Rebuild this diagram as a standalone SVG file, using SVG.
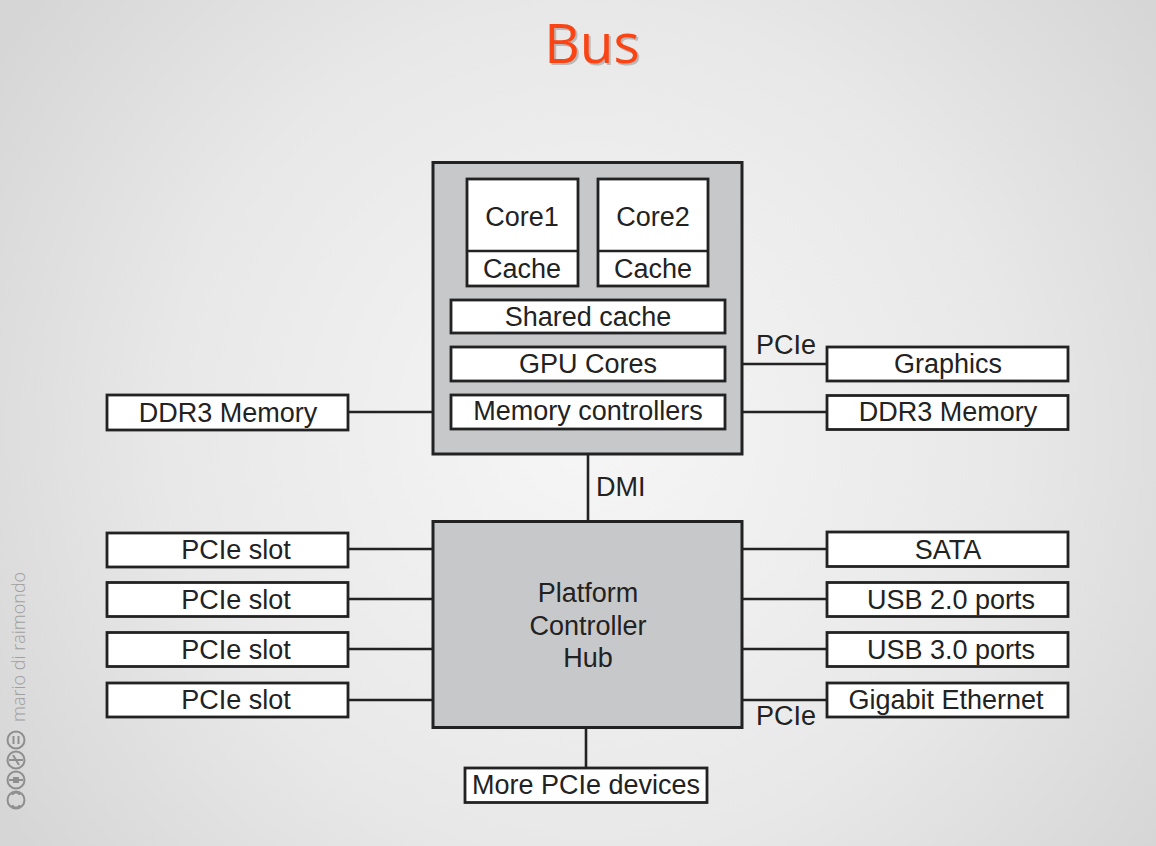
<svg xmlns="http://www.w3.org/2000/svg" width="1156" height="846" viewBox="0 0 1156 846">
<defs>
<radialGradient id="bg" cx="590" cy="430" r="700" gradientUnits="userSpaceOnUse">
<stop offset="0" stop-color="#f6f6f6"/>
<stop offset="0.6" stop-color="#e8e8e8"/>
<stop offset="1" stop-color="#d6d6d6"/>
</radialGradient>
<style>
.big{fill:#c7c8ca;stroke:#222;stroke-width:3}
.box{fill:#fff;stroke:#222;stroke-width:2.8}
.t{font-family:"Liberation Sans",Arial,sans-serif;font-size:27px;fill:#222;text-anchor:middle}
.lbl{font-family:"Liberation Sans",Arial,sans-serif;font-size:27px;fill:#222}
.c{stroke:#222;stroke-width:2.6;fill:none}
.wm{fill:none;stroke:#8f8f8f;stroke-width:2}
</style>
</defs>
<rect width="1156" height="846" fill="url(#bg)"/>

<g id="title">
<text x="594" y="65" font-family="'Open Sans','Noto Sans',sans-serif" font-size="55" fill="#9a9a9a" text-anchor="middle" opacity="0.6">Bus</text>
<text x="592" y="63" font-family="'Open Sans','Noto Sans',sans-serif" font-size="55" fill="#fa4414" text-anchor="middle">Bus</text>
</g>

<g id="watermark">
<text transform="translate(25,722) rotate(-90)" font-family="'Open Sans','Noto Sans',sans-serif" font-weight="300" font-size="18" fill="#a0a0a0">mario di raimondo</text>
<circle class="wm" cx="16" cy="740" r="8.5"/>
<line class="wm" x1="13.5" y1="736" x2="13.5" y2="744"/>
<line class="wm" x1="18.5" y1="736" x2="18.5" y2="744"/>
<circle class="wm" cx="16" cy="760" r="8.5"/>
<line class="wm" x1="9" y1="760" x2="23" y2="760"/>
<path class="wm" d="M13 755 L19 765"/>
<circle class="wm" cx="16" cy="780" r="8.5"/>
<line class="wm" x1="9" y1="780" x2="23" y2="780"/>
<rect x="13" y="777" width="6" height="6" fill="#8f8f8f"/>
<circle class="wm" cx="16" cy="800" r="8.5"/>
<path class="wm" d="M12.5 795 a3.5 2.5 0 0 1 7 0 M12.5 805 a3.5 2.5 0 0 0 7 0"/>
</g>

<g id="connectors">
<line class="c" x1="348" y1="412" x2="451" y2="412"/>
<line class="c" x1="725" y1="412" x2="827" y2="412"/>
<line class="c" x1="742" y1="364" x2="827" y2="364"/>
<line class="c" x1="588" y1="454" x2="588" y2="521"/>
<line class="c" x1="348" y1="549" x2="433" y2="549"/>
<line class="c" x1="348" y1="599" x2="433" y2="599"/>
<line class="c" x1="348" y1="649" x2="433" y2="649"/>
<line class="c" x1="348" y1="700" x2="433" y2="700"/>
<line class="c" x1="742" y1="549" x2="827" y2="549"/>
<line class="c" x1="742" y1="599" x2="827" y2="599"/>
<line class="c" x1="742" y1="649" x2="827" y2="649"/>
<line class="c" x1="742" y1="700" x2="827" y2="700"/>
<line class="c" x1="586" y1="728" x2="586" y2="768"/>
<text class="lbl" x="756" y="354">PCIe</text>
<text class="lbl" x="596" y="496">DMI</text>
<text class="lbl" x="756" y="725">PCIe</text>
</g>

<g id="cpu">
<rect class="big" x="433" y="162.5" width="309" height="291.5"/>
</g>
<g id="core1">
<rect class="box" x="467" y="179" width="111" height="107"/>
<line class="c" x1="467" y1="251" x2="578" y2="251" stroke-width="2.8"/>
<text class="t" x="522" y="226">Core1</text>
<text class="t" x="522" y="278">Cache</text>
</g>
<g id="core2">
<rect class="box" x="598" y="179" width="110" height="107"/>
<line class="c" x1="598" y1="251" x2="708" y2="251" stroke-width="2.8"/>
<text class="t" x="653" y="226">Core2</text>
<text class="t" x="653" y="278">Cache</text>
</g>
<g id="shared-cache">
<rect class="box" x="451" y="300" width="274" height="33"/>
<text class="t" x="588" y="326">Shared cache</text>
</g>
<g id="gpu-cores">
<rect class="box" x="451" y="347" width="274" height="34"/>
<text class="t" x="588" y="373">GPU Cores</text>
</g>
<g id="memory-controllers">
<rect class="box" x="451" y="395" width="274" height="34"/>
<text class="t" x="588" y="420">Memory controllers</text>
</g>

<g id="ddr3-left">
<rect class="box" x="107" y="395" width="241" height="35"/>
<text class="t" x="228" y="422">DDR3 Memory</text>
</g>
<g id="graphics">
<rect class="box" x="827" y="347" width="241" height="34"/>
<text class="t" x="948" y="373">Graphics</text>
</g>
<g id="ddr3-right">
<rect class="box" x="827" y="395.5" width="241" height="34"/>
<text class="t" x="948" y="421">DDR3 Memory</text>
</g>

<g id="pch">
<rect class="big" x="433" y="521.5" width="309" height="206"/>
<text class="t" x="588" y="602">Platform</text>
<text class="t" x="588" y="635">Controller</text>
<text class="t" x="588" y="667">Hub</text>
</g>

<g id="pcie-slot-1">
<rect class="box" x="107" y="533" width="241" height="34"/>
<text class="t" x="236" y="559">PCIe slot</text>
</g>
<g id="pcie-slot-2">
<rect class="box" x="107" y="582.5" width="241" height="34"/>
<text class="t" x="236" y="609">PCIe slot</text>
</g>
<g id="pcie-slot-3">
<rect class="box" x="107" y="632.5" width="241" height="34"/>
<text class="t" x="236" y="659">PCIe slot</text>
</g>
<g id="pcie-slot-4">
<rect class="box" x="107" y="683" width="241" height="34"/>
<text class="t" x="236" y="709">PCIe slot</text>
</g>

<g id="sata">
<rect class="box" x="827" y="532" width="241" height="34.5"/>
<text class="t" x="948" y="559">SATA</text>
</g>
<g id="usb2">
<rect class="box" x="827" y="582.5" width="241" height="34"/>
<text class="t" x="951" y="609">USB 2.0 ports</text>
</g>
<g id="usb3">
<rect class="box" x="827" y="632.5" width="241" height="34"/>
<text class="t" x="951" y="659">USB 3.0 ports</text>
</g>
<g id="gigabit-ethernet">
<rect class="box" x="827" y="683" width="241" height="34"/>
<text class="t" x="946" y="709">Gigabit Ethernet</text>
</g>

<g id="more-pcie">
<rect class="box" x="465" y="768" width="242" height="34.5"/>
<text class="t" x="586" y="794">More PCIe devices</text>
</g>
</svg>
